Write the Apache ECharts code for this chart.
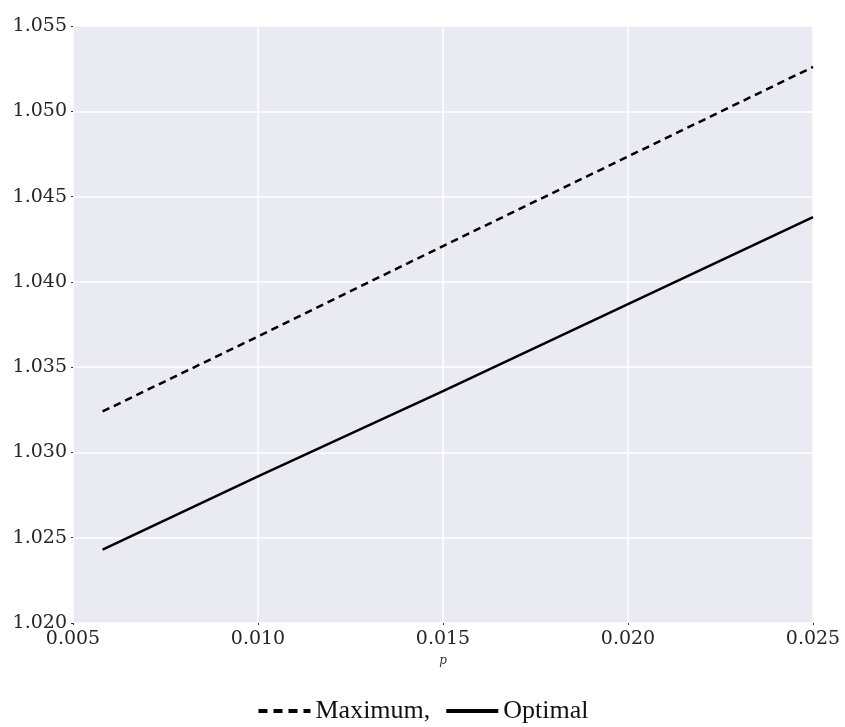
<!DOCTYPE html>
<html>
<head>
<meta charset="utf-8">
<script src="https://cdn.jsdelivr.net/npm/echarts@6/dist/echarts.min.js"></script>
<style>html,body{margin:0;padding:0;background:#fff}#c{width:845px;height:727px}</style>
</head>
<body>
<div id="c"></div>
<script>
const pValues = [0.0058, 0.010, 0.015, 0.020, 0.025];
const maximumValues = [1.0324, 1.0368, 1.0421, 1.04735, 1.0526];
const optimalValues = [1.0243, 1.0286, 1.0336, 1.0387, 1.0438];
const seriesNames = ['Maximum,', 'Optimal'];

const chart = echarts.init(document.getElementById('c'));
const serif = 'DejaVu Serif';
chart.setOption({
  animation: false,
  backgroundColor: '#ffffff',
  grid: {left: 73, right: 32, top: 26, bottom: 104, show: true, backgroundColor: '#EAEAF2', borderWidth: 0},
  legend: {
    data: [
      {name: seriesNames[0], lineStyle: {type: [9, 6], width: 4}},
      {name: seriesNames[1], lineStyle: {type: 'solid', width: 4}}
    ],
    top: 693,
    left: 'center',
    itemWidth: 52,
    itemHeight: 14,
    itemGap: 14,
    itemStyle: {opacity: 0},
    lineStyle: {width: 4},
    textStyle: {fontFamily: 'Liberation Serif', fontSize: 26, color: '#111'}
  },
  xAxis: {
    type: 'value', min: 0.005, max: 0.025, interval: 0.005,
    name: 'p', nameLocation: 'middle', nameGap: 32,
    nameTextStyle: {fontFamily: serif, fontStyle: 'italic', fontSize: 12, color: '#333'},
    axisLine: {show: false},
    axisTick: {show: true, length: 2, lineStyle: {color: '#333', width: 1}},
    axisLabel: {fontFamily: serif, fontSize: 19, color: '#262626', margin: 7,
      formatter: v => v.toFixed(3)},
    splitLine: {show: true, lineStyle: {color: '#ffffff', width: 1.5}}
  },
  yAxis: {
    type: 'value', min: 1.02, max: 1.055, interval: 0.005,
    axisLine: {show: false},
    axisTick: {show: true, length: 2, lineStyle: {color: '#333', width: 1}},
    axisLabel: {fontFamily: serif, fontSize: 19, color: '#262626', margin: 6,
      formatter: v => v.toFixed(3)},
    splitLine: {show: true, lineStyle: {color: '#ffffff', width: 1.5}}
  },
  series: [
    {name: seriesNames[0], type: 'line', showSymbol: false, symbol: 'none',
     data: pValues.map((p, i) => [p, maximumValues[i]]),
     lineStyle: {color: '#000', width: 2.5, type: [7.5, 5]}, itemStyle: {color: '#000'}},
    {name: seriesNames[1], type: 'line', showSymbol: false, symbol: 'none',
     data: pValues.map((p, i) => [p, optimalValues[i]]),
     lineStyle: {color: '#000', width: 2.5, type: 'solid'}, itemStyle: {color: '#000'}}
  ]
});
</script>
</body>
</html>
